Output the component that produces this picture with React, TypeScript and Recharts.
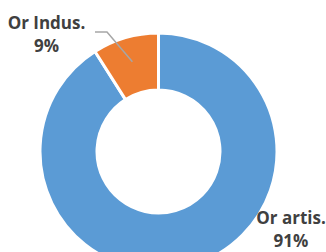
import React from "react";
import { PieChart, Pie, Cell } from "recharts";

// Origen de la producción
const categories = ["Or artis.", "Or Indus."];
const values = [91, 9];
const colors = ["#5B9BD5", "#ED7D31"];

const data = categories.map((name, i) => ({ name, value: values[i] }));

const RADIAN = Math.PI / 180;
// label placement relative to the pie centre
const labelOffsets = [
  { dx: 132.5, dy: 72.5 },
  { dx: -112, dy: -122.5 },
];

function renderLabel(props: any) {
  const { cx, cy, midAngle, outerRadius, name, percent, index } = props;
  const off = labelOffsets[index];
  const x = cx + off.dx;
  const y = cy + off.dy;
  let line = null;
  if (index === 1) {
    const r = outerRadius - 25;
    const sx = cx + r * Math.cos(-midAngle * RADIAN);
    const sy = cy + r * Math.sin(-midAngle * RADIAN);
    const ex = cx - 51.5;
    const ey = cy - 119.5;
    line = (
      <polyline
        points={`${sx},${sy} ${ex},${ey} ${ex - 12},${ey}`}
        fill="none"
        stroke="#A6A6A6"
        strokeWidth={1.5}
      />
    );
  }
  return (
    <g>
      {line}
      <text
        x={x}
        y={y}
        textAnchor="middle"
        fill="#404040"
        fontFamily="'Open Sans', sans-serif"
        fontWeight="bold"
        fontSize={17}
      >
        <tspan x={x} y={y}>{name}</tspan>
        <tspan x={x} y={y + 23}>{`${Math.round(percent * 100)}%`}</tspan>
      </text>
    </g>
  );
}

export default function App() {
  return (
    <div style={{ position: "fixed", left: 0, top: 0, background: "#fff" }}>
      <PieChart width={326} height={252} margin={{ top: 0, right: 0, bottom: 0, left: 0 }}>
        <Pie
          data={data}
          dataKey="value"
          nameKey="name"
          cx={158.5}
          cy={151.5}
          innerRadius={61.5}
          outerRadius={118.5}
          startAngle={90}
          endAngle={-270}
          stroke="#fff"
          strokeWidth={3}
          label={renderLabel}
          labelLine={false}
          isAnimationActive={false}
        >
          {data.map((d, i) => (
            <Cell key={d.name} fill={colors[i]} />
          ))}
        </Pie>
      </PieChart>
    </div>
  );
}
